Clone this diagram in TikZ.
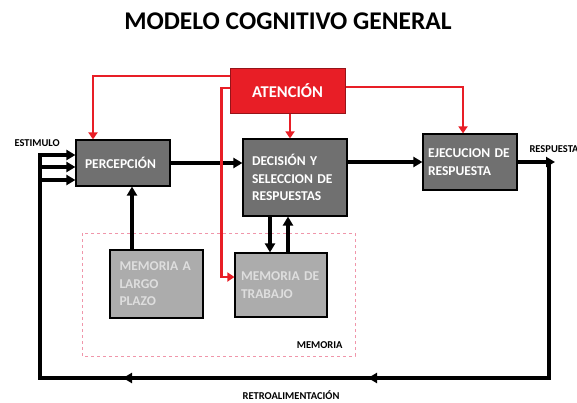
\documentclass[tikz,border=0pt]{standalone}
\usepackage{fontspec}
\setmainfont{Carlito}
\usetikzlibrary{arrows.meta}
\usetikzlibrary{calc}

\definecolor{boxgrey}{RGB}{112,112,112}
\definecolor{memgrey}{RGB}{172,172,172}
\definecolor{memtext}{RGB}{222,222,222}
\definecolor{attred}{RGB}{232,30,38}
\definecolor{attborder}{RGB}{150,20,25}
\definecolor{dashpink}{RGB}{240,150,170}

\begin{document}
\begin{tikzpicture}[x=1pt, y=-1pt, line join=miter,
        block_style/.style={rectangle,draw=black,line width=1.2pt,fill=boxgrey,text=white,font=\bfseries\fontsize{13.5}{17.5}\selectfont,align=left,inner xsep=0pt},
        mem_style/.style={block_style,fill=memgrey,text=memtext},
        att_style/.style={rectangle,draw=attborder,line width=1pt,fill=attred,text=white,font=\bfseries\fontsize{16.5}{19}\selectfont},
        label_style/.style={font=\bfseries\fontsize{10.5}{12}\selectfont},
        edge_style/.style={draw=black,line width=3.5pt,-{Triangle[length=9pt,width=10pt]}},
        line_style/.style={draw=black,line width=3.5pt},
        att_edge_style/.style={draw=attred,line width=2.8pt,-{Triangle[length=7pt,width=9pt]}}]

        \useasboundingbox (0,0) rectangle (577,402);

        \node [font=\bfseries\fontsize{25.5}{28}\selectfont] (title) at (288,21) {MODELO COGNITIVO GENERAL};

        \node [att_style,minimum width=115pt,minimum height=45pt] (atencion) at (287.5,90.5) {ATENCIÓN};

        \node [block_style,minimum width=94pt,minimum height=46pt,text width=76pt] (percepcion) at (123,163) {PERCEPCIÓN};

        \node [block_style,minimum width=104pt,minimum height=77pt,text width=86pt] (decision) at (295,177.5) {DECISIÓN Y\\SELECCION DE\\RESPUESTAS};

        \node [block_style,minimum width=94pt,minimum height=56pt,text width=84pt] (ejecucion) at (470,162) {EJECUCION DE\\RESPUESTA};

        \draw [dashpink,dashed,line width=0.6pt] (82,233) rectangle (355,356);
        \node [label_style,anchor=east] (memoria) at (346,345) {MEMORIA};

        \node [mem_style,minimum width=93pt,minimum height=68pt,text width=74pt] (largoplazo) at (156.5,284) {MEMORIA A\\LARGO\\PLAZO};

        \node [mem_style,minimum width=92pt,minimum height=64pt,text width=80pt] (trabajo) at (281,285) {MEMORIA DE\\TRABAJO};

        \node [label_style,anchor=west] (estimulo) at (11,143) {ESTIMULO};
        \node [label_style,anchor=west] (respuesta) at (526,149) {RESPUESTA};
        \node [label_style] (retro) at (291,395) {RETROALIMENTACIÓN};

        \coordinate (fb_r) at (549,378);
        \coordinate (fb_m1) at (368,378);
        \coordinate (fb_m2) at (123,378);
        \coordinate (fb_l) at (40,378);
        \coordinate (in_top) at (40,155);
        \coordinate (in_mid) at (40,167);
        \coordinate (in_low) at (40,180);
        \coordinate (resp_out) at (555,162);

        % main flow
        \draw [edge_style] (percepcion.east) -- (percepcion.east -| decision.west);
        \draw [edge_style] (decision.east |- ejecucion.west) -- (ejecucion.west);
        \draw [edge_style] (ejecucion.east) -- (resp_out);

        % feedback loop
        \draw [line_style] ($(resp_out)+(-6,-1.75)$) -- (fb_r) -- (fb_l) -- ($(in_top)+(0,-1.75)$);
        \draw [edge_style] ($(fb_m1)+(12,0)$) -- (fb_m1);
        \draw [edge_style] ($(fb_m2)+(12,0)$) -- (fb_m2);
        \draw [edge_style] ($(in_top)+(-1.75,0)$) -- (in_top -| percepcion.west);
        \draw [edge_style] (in_mid) -- (in_mid -| percepcion.west);
        \draw [edge_style] (in_low) -- (in_low -| percepcion.west);

        % memory
        \draw [edge_style] ([xshift=-24.5pt]largoplazo.north) -- ([xshift=-24.5pt]largoplazo.north |- percepcion.south);
        \draw [edge_style] ([xshift=-11pt]trabajo.north |- decision.south) -- ([xshift=-11pt]trabajo.north);
        \draw [edge_style] ([xshift=7pt]trabajo.north) -- ([xshift=7pt]trabajo.north |- decision.south);

        % attention
        \draw [att_edge_style] ([yshift=14.5pt]atencion.west) -| ([xshift=-30pt]percepcion.north);
        \draw [att_edge_style] ([yshift=2.5pt]atencion.west) -| ([xshift=-13pt,yshift=8pt]trabajo.west) -- ([yshift=8pt]trabajo.west);
        \draw [att_edge_style] ([xshift=2.5pt]atencion.south) -- ([xshift=2.5pt]atencion.south |- decision.north);
        \draw [att_edge_style] ([yshift=3.5pt]atencion.east) -| ([xshift=-7pt]ejecucion.north);

\end{tikzpicture}
\end{document}
